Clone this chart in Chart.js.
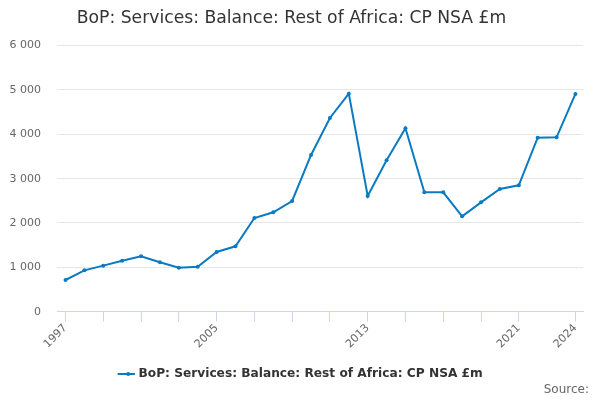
<!DOCTYPE html>
<html>
<head>
<meta charset="utf-8">
<script src="https://cdn.jsdelivr.net/npm/chart.js@4.4.1/dist/chart.umd.min.js"></script>
<style>
  html, body { margin: 0; padding: 0; background: #fff; }
  #wrap { width: 600px; height: 400px; }
</style>
</head>
<body>
<div id="wrap"><canvas id="chart"></canvas></div>
<script>
// data
const years = [1997, 1998, 1999, 2000, 2001, 2002, 2003, 2004, 2005, 2006,
               2007, 2008, 2009, 2010, 2011, 2012, 2013, 2014, 2015, 2016,
               2017, 2018, 2019, 2020, 2021, 2022, 2023, 2024];
const balance = [714, 932, 1038, 1150, 1248, 1113, 992, 1015, 1346, 1474,
                 2113, 2241, 2496, 3534, 4368, 4917, 2609, 3414, 4135, 2692,
                 2692, 2150, 2466, 2767, 2850, 3925, 3932, 4910];
const tickYears = [1997, 1999, 2001, 2003, 2005, 2007, 2009, 2011, 2013, 2015, 2017, 2019, 2021, 2024];
const labelYears = [1997, 2005, 2013, 2021, 2024];
const yTicks = [0, 1000, 2000, 3000, 4000, 5000, 6000];

const seriesName = "BoP: Services: Balance: Rest of Africa: CP NSA £m";
const lineColor = "#0a7bc2";
const font = "'DejaVu Sans', sans-serif";
const legendShift = 10; // legend sits centred on the full width in the original

// small helper so we get "6 000" style numbers
function spaced(n) {
    return String(n).replace(/\B(?=(\d{3})+(?!\d))/g, " ");
}

const sourcePlugin = {
    id: "sourceNote",
    afterDraw(chart) {
        const ctx = chart.ctx;
        ctx.save();
        ctx.font = "12px " + font;
        ctx.fillStyle = "#666";
        ctx.textAlign = "right";
        ctx.textBaseline = "middle";
        ctx.fillText("Source:", 589, 390);
        ctx.restore();
    }
};

// nudge the legend and put a dot in the middle of its line
const legendTweak = {
    id: "legendTweak",
    afterLayout(chart) {
        if (!chart.legend) return;
        chart.legend.left += legendShift;
        chart.legend.right += legendShift;
    },
    afterDraw(chart) {
        const boxes = chart.legend && chart.legend.legendHitBoxes;
        if (!boxes || !boxes.length) return;
        const b = boxes[0];
        const ctx = chart.ctx;
        ctx.save();
        ctx.fillStyle = lineColor;
        ctx.beginPath();
        ctx.arc(b.left + 8, b.top + b.height / 2, 2, 0, Math.PI * 2);
        ctx.fill();
        ctx.restore();
    }
};

new Chart(document.getElementById("chart"), {
    type: "line",
    data: {
        datasets: [{
            label: seriesName,
            data: years.map((y, i) => ({ x: y, y: balance[i] })),
            borderColor: lineColor,
            backgroundColor: lineColor,
            borderWidth: 2,
            pointRadius: 2,
            pointBorderWidth: 0,
            pointHoverRadius: 3,
            tension: 0
        }]
    },
    plugins: [sourcePlugin, legendTweak],
    options: {
        responsive: true,
        maintainAspectRatio: false,
        animation: false,
        layout: { padding: { left: 0, right: 17, top: 0, bottom: 10 } },
        plugins: {
            title: {
                display: true,
                text: seriesName,
                color: "#333",
                font: { family: font, size: 17.2, weight: "normal" },
                padding: { top: 8, bottom: 17 }
            },
            legend: {
                position: "bottom",
                labels: {
                    color: "#333",
                    font: { family: font, size: 12.2, weight: "bold" },
                    usePointStyle: true,
                    pointStyle: "line",
                    boxWidth: 16,
                    padding: 8,
                    generateLabels: chart => {
                        const items = Chart.defaults.plugins.legend.labels.generateLabels(chart);
                        items.forEach(it => {
                            it.lineWidth = 2;
                            it.strokeStyle = lineColor;
                        });
                        return items;
                    }
                }
            },
            tooltip: { enabled: false }
        },
        scales: {
            x: {
                type: "linear",
                min: 1996.55,
                max: 2024.4,
                afterBuildTicks: axis => {
                    axis.ticks = tickYears.map(v => ({ value: v }));
                },
                afterFit: axis => { axis.height += 9; },
                border: { color: "#ccd6eb" },
                grid: {
                    drawOnChartArea: false,
                    color: "#ccd6eb",
                    tickLength: 10
                },
                ticks: {
                    autoSkip: false,
                    minRotation: 45,
                    maxRotation: 45,
                    color: "#666",
                    padding: 0,
                    font: { family: font, size: 11 },
                    callback: v => labelYears.includes(v) ? String(v) : ""
                }
            },
            y: {
                min: 0,
                max: 6000,
                afterBuildTicks: axis => {
                    axis.ticks = yTicks.map(v => ({ value: v }));
                },
                afterFit: axis => { axis.width = 57; },
                border: { display: false },
                grid: { color: "#e6e6e6", drawTicks: false },
                ticks: {
                    color: "#666",
                    padding: 16,
                    font: { family: font, size: 11 },
                    callback: v => spaced(v)
                }
            }
        }
    }
});
</script>
</body>
</html>
